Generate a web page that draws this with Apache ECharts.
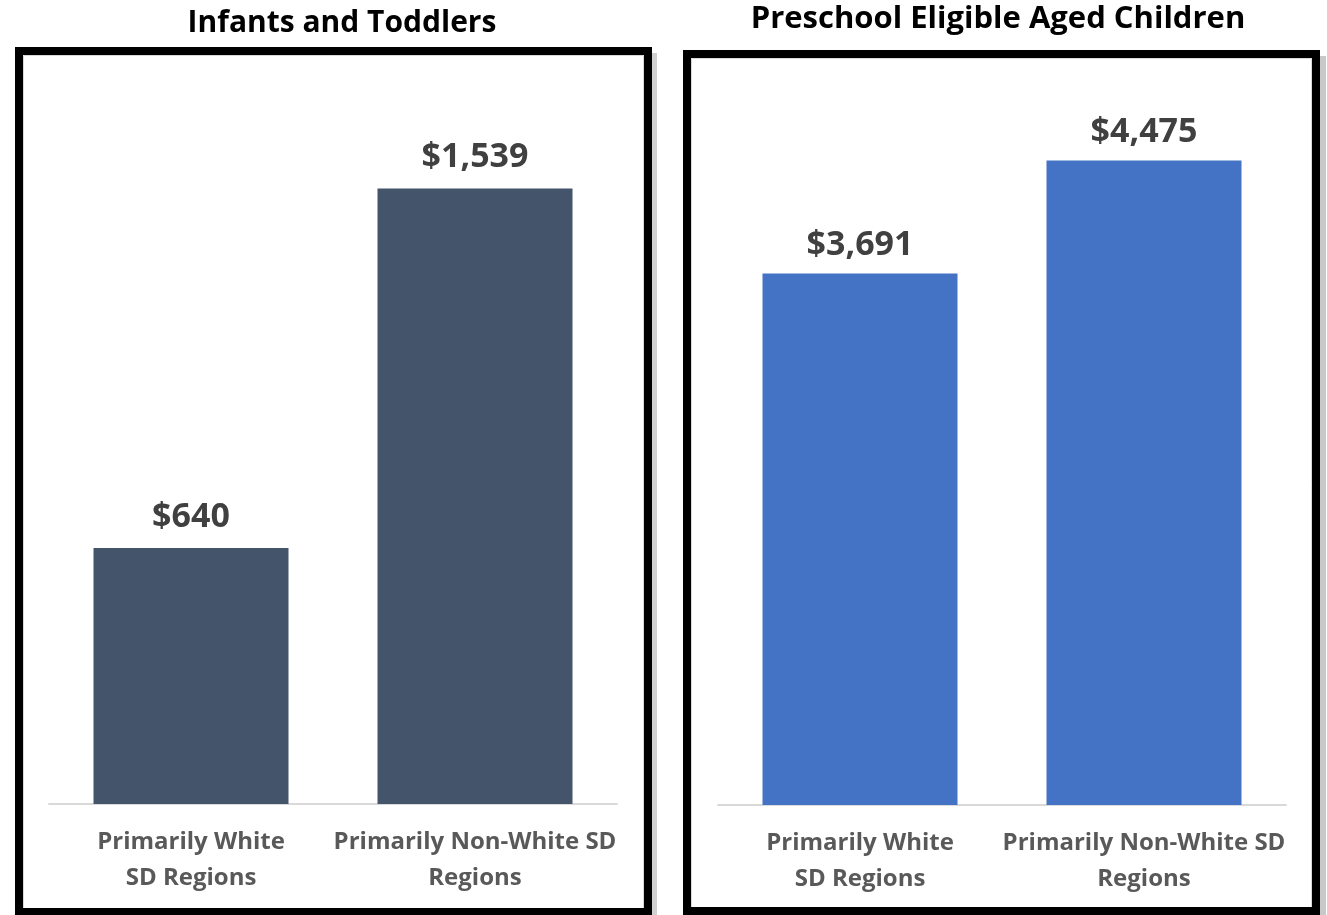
<!DOCTYPE html>
<html>
<head>
<meta charset="utf-8">
<script src="https://cdn.jsdelivr.net/npm/echarts@6/dist/echarts.min.js"></script>
<style>
html,body{margin:0;padding:0;background:#fff;}
#chart{width:1327px;height:915px;}
</style>
</head>
<body>
<div id="chart"></div>
<script>
const categories = ["Primarily White\nSD Regions", "Primarily Non-White SD\nRegions"];
const infantsValues = [640, 1539];
const preschoolValues = [3691, 4475];
const titles = ["Infants and Toddlers", "Preschool Eligible Aged Children"];

const FONT = "Open Sans";
const chart = echarts.init(document.getElementById('chart'));

function fmt(v){ return '$' + v.toLocaleString('en-US'); }

const xAxisCommon = {
  type: 'category',
  data: categories,
  axisTick: {show: false},
  axisLine: {lineStyle: {color: '#d9d9d9', width: 2}},
  axisLabel: {color: '#595959', fontFamily: FONT, fontWeight: 'bold', fontSize: 24, lineHeight: 36, margin: 20, interval: 0}
};
const yAxisCommon = {type: 'value', min: 0, show: false, splitLine: {show: false}};
const labelCommon = {
  show: true, position: 'top', distance: 14,
  color: '#404040', fontFamily: FONT, fontWeight: 'bold', fontSize: 34,
  formatter: p => fmt(p.value)
};

chart.setOption({
  backgroundColor: '#ffffff',
  animation: false,
  title: [
    {text: titles[0], left: 337, top: 3, textAlign: 'center',
     textStyle: {fontFamily: FONT, fontWeight: 'bold', fontSize: 30, color: '#000'}},
    {text: titles[1], left: 993, top: -1, textAlign: 'center',
     textStyle: {fontFamily: FONT, fontWeight: 'bold', fontSize: 31, color: '#000'}}
  ],
  grid: [
    {left: 49, width: 568, top: 84, height: 720},
    {left: 718, width: 568, top: 85, height: 720}
  ],
  xAxis: [
    Object.assign({gridIndex: 0}, xAxisCommon),
    Object.assign({gridIndex: 1}, xAxisCommon)
  ],
  yAxis: [
    Object.assign({gridIndex: 0, max: 1800}, yAxisCommon),
    Object.assign({gridIndex: 1, max: 5000}, yAxisCommon)
  ],
  series: [
    {type: 'bar', xAxisIndex: 0, yAxisIndex: 0, data: infantsValues, barWidth: 195,
     itemStyle: {color: '#44546A'}, label: labelCommon},
    {type: 'bar', xAxisIndex: 1, yAxisIndex: 1, data: preschoolValues, barWidth: 195,
     itemStyle: {color: '#4472C4'}, label: Object.assign({}, labelCommon, {distance: 11})}
  ],
  graphic: [
    {type: 'rect', shape: {x: 652, y: 53, width: 5, height: 862}, style: {fill: '#d0d0d0'}, z: 90},
    {type: 'rect', shape: {x: 1320, y: 56, width: 6, height: 859}, style: {fill: '#c8c8c8'}, z: 90},
    {type: 'rect', shape: {x: 23.5, y: 55.5, width: 620, height: 853}, style: {fill: 'none', stroke: '#d9d9d9', lineWidth: 1}, z: 99},
    {type: 'rect', shape: {x: 691.5, y: 58.5, width: 620, height: 850}, style: {fill: 'none', stroke: '#d9d9d9', lineWidth: 1}, z: 99},
    {type: 'rect', shape: {x: 19, y: 51, width: 629, height: 861}, style: {fill: 'none', stroke: '#000', lineWidth: 8}, z: 100},
    {type: 'rect', shape: {x: 687, y: 54, width: 629, height: 857}, style: {fill: 'none', stroke: '#000', lineWidth: 8}, z: 100}
  ]
});
</script>
</body>
</html>
